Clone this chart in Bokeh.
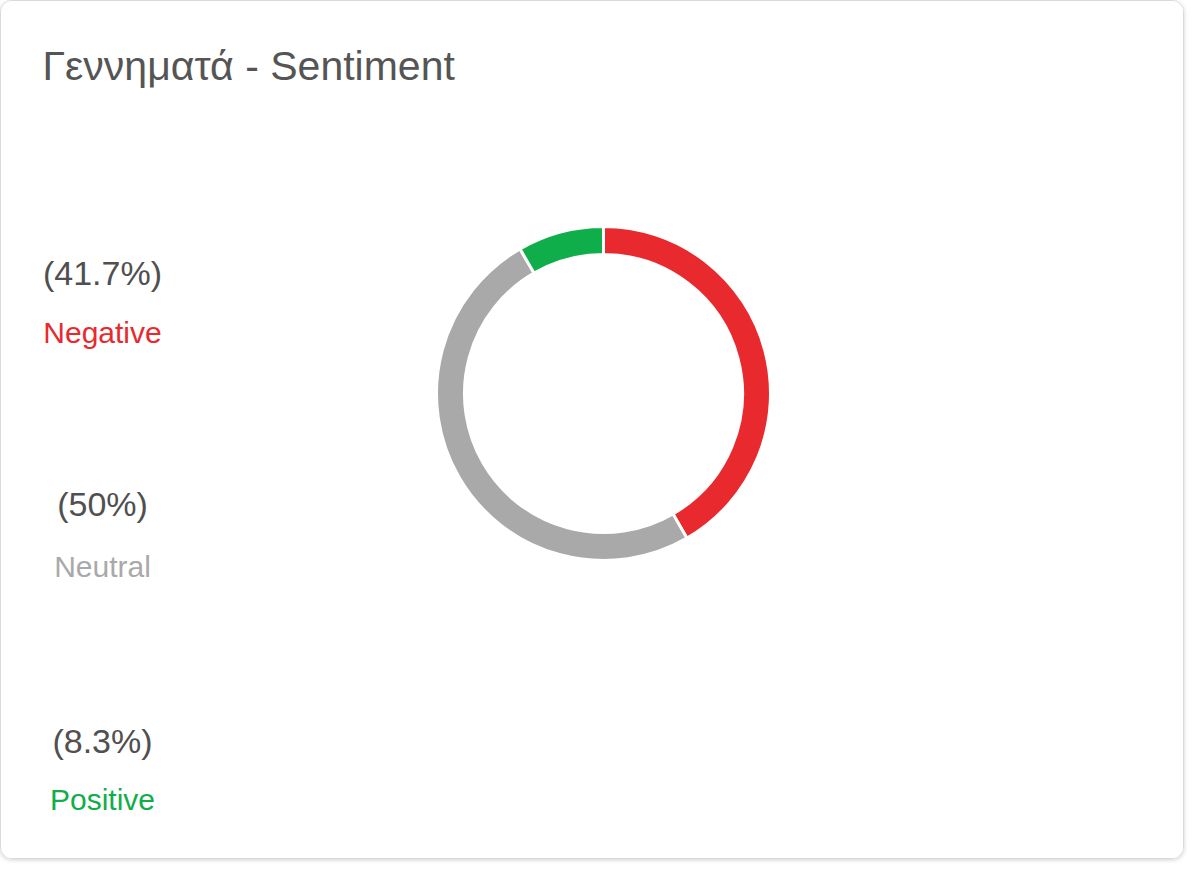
import numpy as np
from bokeh.plotting import figure
from bokeh.models import Range1d, ColumnDataSource
from bokeh.core.properties import value
from bokeh.embed import file_html
from bokeh.resources import INLINE

# ---- data ----
title_text = "Γεννηματά - Sentiment"
categories = ["Negative", "Neutral", "Positive"]
counts = [5, 6, 1]
colors = ["#e8292d", "#a9a9a9", "#0fae4a"]
label_colors = ["#e8292d", "#a9a9a9", "#0fae4a"]
pct_labels = ["(41.7%)", "(50%)", "(8.3%)"]

W, H = 1184, 859
p = figure(width=W, height=H, output_backend="svg", toolbar_location=None,
           x_range=Range1d(0, W), y_range=Range1d(0, H),
           min_border=0, outline_line_color=None)
p.axis.visible = False
p.grid.visible = False
p.background_fill_color = "white"
p.border_fill_color = "white"
p.styles = {"border": "1px solid #d9d9d9", "border-radius": "12px",
            "box-shadow": "0 1px 4px rgba(0,0,0,0.18)", "overflow": "hidden"}

def Y(y_ref):
    return H - y_ref

# donut: start at top (90deg), clockwise
vals = np.array(counts, dtype=float)
frac = vals / vals.sum()
ends = np.pi / 2 - 2 * np.pi * np.cumsum(frac)
starts = np.concatenate([[np.pi / 2], ends[:-1]])
src = ColumnDataSource(dict(start=ends, end=starts, color=colors, cat=categories))
cx, cy = 602, Y(392)
p.annular_wedge(x=cx, y=cy, inner_radius=139, outer_radius=167,
                inner_radius_units="screen", outer_radius_units="screen",
                start_angle="start", end_angle="end", direction="anticlock",
                fill_color="color", line_color="white", line_width=3, source=src)

# title
p.text(x=[41], y=[Y(64)], text=[title_text], text_font=value("Liberation Sans"),
       text_font_size="41px", text_color="#555555", text_align="left",
       text_baseline="middle")

# legend
pct_y = [271, 502, 739]
lab_y = [331, 565, 798]
p.text(x=[101] * 3, y=[Y(v) for v in pct_y], text=pct_labels,
       text_font=value("Liberation Sans"), text_font_size="34px",
       text_color="#505050", text_align="center", text_baseline="middle")
p.text(x=[101] * 3, y=[Y(v) for v in lab_y], text=categories,
       text_font=value("Liberation Sans"), text_font_size="30px",
       text_color=label_colors, text_align="center", text_baseline="middle")

open("out.html", "w").write(file_html(p, INLINE))
